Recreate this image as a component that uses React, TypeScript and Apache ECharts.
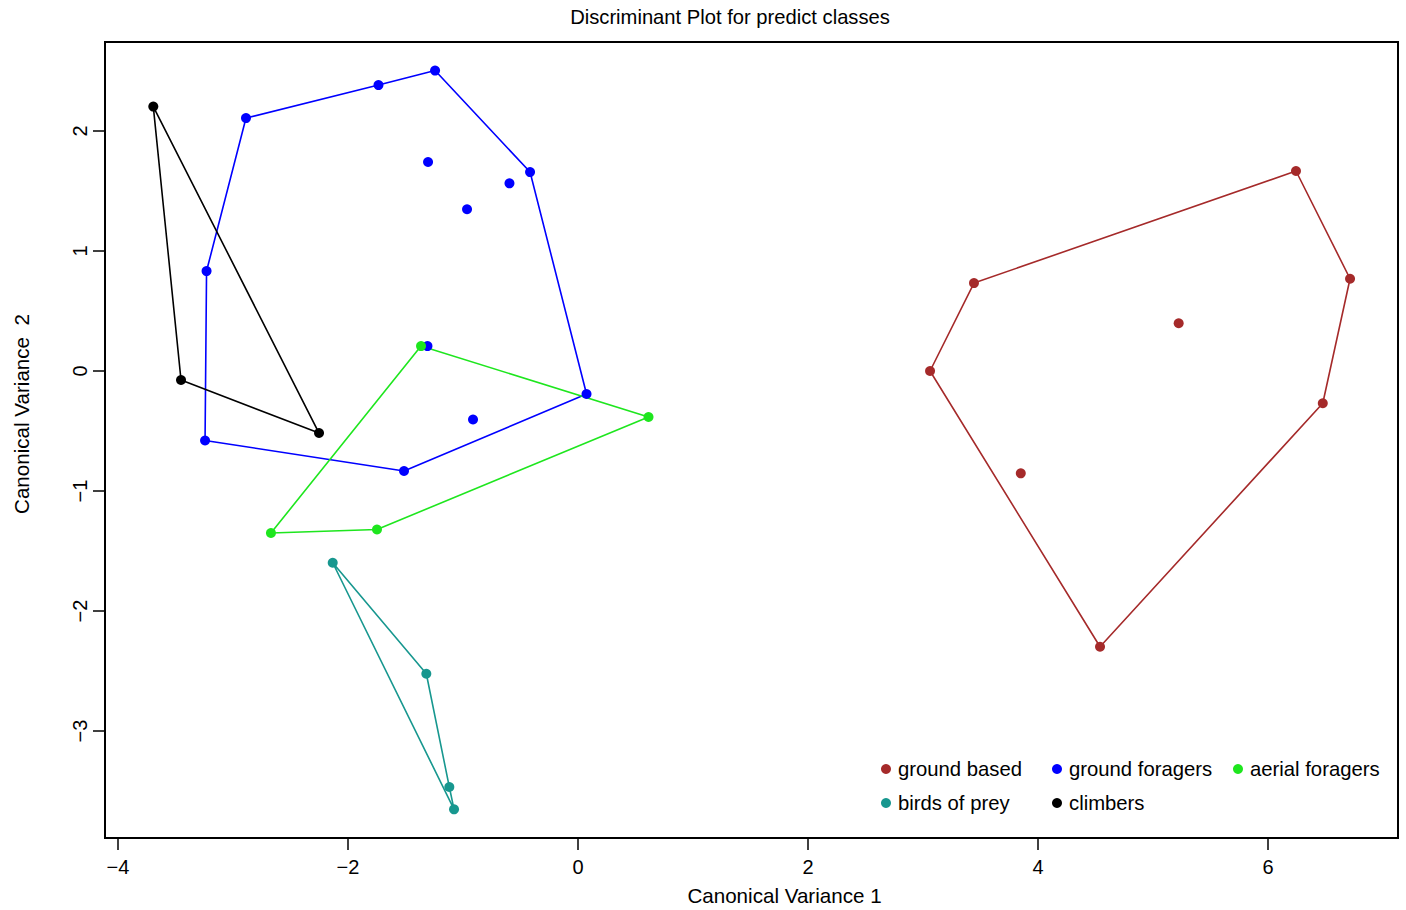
import React, { useEffect, useRef } from "react";
import * as echarts from "echarts";

const groupNames = ["ground based", "ground foragers", "aerial foragers", "birds of prey", "climbers"];
const groupColors = ["#A52A2A", "#0000FF", "#1EE61E", "#17978F", "#000000"];

const groundBased = [
  [6.243, 1.667], [6.713, 0.769], [6.476, -0.269], [4.539, -2.298],
  [3.061, 0.0], [3.443, 0.733], [5.223, 0.398], [3.85, -0.853],
];
const groundBasedHull = [0, 1, 2, 3, 4, 5, 0];

const groundForagers = [
  [-1.243, 2.504], [-1.735, 2.383], [-2.887, 2.108], [-3.23, 0.833],
  [-3.243, -0.579], [-1.513, -0.833], [0.074, -0.192], [-0.417, 1.658],
  [-1.304, 1.742], [-0.596, 1.564], [-0.965, 1.348], [-1.309, 0.208], [-0.913, -0.404],
];
const groundForagersHull = [0, 7, 6, 5, 4, 3, 2, 1, 0];

const aerialForagers = [
  [-1.365, 0.208], [0.613, -0.383], [-1.748, -1.321], [-2.67, -1.35],
];
const aerialForagersHull = [0, 1, 2, 3, 0];

const birdsOfPrey = [
  [-2.133, -1.598], [-1.319, -2.523], [-1.119, -3.467], [-1.078, -3.653],
];
const birdsOfPreyHull = [0, 1, 2, 3, 0];

const climbers = [
  [-3.693, 2.204], [-3.452, -0.075], [-2.252, -0.517],
];
const climbersHull = [0, 1, 2, 0];

const xTicks = [-4, -2, 0, 2, 4, 6];
const yTicks = [-3, -2, -1, 0, 1, 2];

const groups = [
  { pts: groundBased, hull: groundBasedHull },
  { pts: groundForagers, hull: groundForagersHull },
  { pts: aerialForagers, hull: aerialForagersHull },
  { pts: birdsOfPrey, hull: birdsOfPreyHull },
  { pts: climbers, hull: climbersHull },
];

const FONT = "'Liberation Sans', Arial, Helvetica, sans-serif";
const minus = (v: number) => String(v).replace("-", "\u2212");

export default function App() {
  const ref = useRef<HTMLDivElement>(null);
  useEffect(() => {
    document.body.style.margin = "0";
    const chart = echarts.init(ref.current!, null, { renderer: "svg" });
    const series: any[] = [];
    groups.forEach((g, i) => {
      series.push({
        type: "line",
        name: groupNames[i],
        data: g.hull.map((k) => g.pts[k]),
        symbol: "none",
        showSymbol: false,
        lineStyle: { color: groupColors[i], width: 1.6 },
        itemStyle: { color: groupColors[i] },
        z: 2,
        silent: true,
      });
    });
    groups.forEach((g, i) => {
      series.push({
        type: "scatter",
        name: groupNames[i],
        data: g.pts,
        symbol: "circle",
        symbolSize: 10,
        itemStyle: { color: groupColors[i], opacity: 1 },
        z: 3,
      });
    });
    const legendPos = [
      [881, 759], [1052, 759], [1233, 759],
      [881, 793], [1052, 793],
    ];
    const legends = groupNames.map((n, i) => ({
      show: true,
      data: [{ name: n, icon: "circle", itemStyle: { color: groupColors[i] } }],
      left: legendPos[i][0],
      top: legendPos[i][1],
      padding: 0,
      itemWidth: 10,
      itemHeight: 10,
      itemGap: 0,
      selectedMode: false,
      textStyle: { fontFamily: FONT, fontSize: 20.3, color: "#000", padding: [0, 0, 0, 2] },
    }));
    chart.setOption({
      animation: false,
      backgroundColor: "#fff",
      title: {
        text: "Discriminant Plot for predict classes",
        left: 730,
        top: 7,
        padding: 0,
        textAlign: "center",
        textStyle: { fontFamily: FONT, fontSize: 20.2, fontWeight: "normal", color: "#000" },
      },
      legend: legends,
      grid: {
        left: 105, top: 42, width: 1293, height: 796,
        show: true, borderColor: "#000", borderWidth: 2, backgroundColor: "transparent",
      },
      xAxis: {
        type: "value",
        min: -4.113,
        max: 7.13,
        axisLine: { show: false, onZero: false },
        splitLine: { show: false },
        axisTick: { show: true, length: 12, lineStyle: { color: "#000", width: 1.5 }, customValues: xTicks },
        axisLabel: {
          customValues: xTicks, margin: 19, fontFamily: FONT, fontSize: 20, color: "#000",
          formatter: (v: number) => minus(v),
        },
      },
      yAxis: {
        type: "value",
        min: -3.892,
        max: 2.742,
        axisLine: { show: false, onZero: false },
        splitLine: { show: false },
        axisTick: { show: true, length: 12, lineStyle: { color: "#000", width: 1.5 }, customValues: yTicks },
        axisLabel: {
          customValues: yTicks, margin: 15, rotate: 90, fontFamily: FONT, fontSize: 20, color: "#000",
          formatter: (v: number) => minus(v),
        },
      },
      graphic: [
        {
          type: "text", x: 784.5, y: 895,
          style: { text: "Canonical Variance 1", fontFamily: FONT, fontSize: 20.6, fill: "#000", align: "center", verticalAlign: "middle" },
        },
        {
          type: "text", x: 21, y: 414, rotation: Math.PI / 2,
          style: { text: "Canonical Variance  2", fontFamily: FONT, fontSize: 20.6, fill: "#000", align: "center", verticalAlign: "middle" },
        },
      ],
      series,
    });
    return () => chart.dispose();
  }, []);
  return <div ref={ref} style={{ width: 1406, height: 910 }} />;
}
